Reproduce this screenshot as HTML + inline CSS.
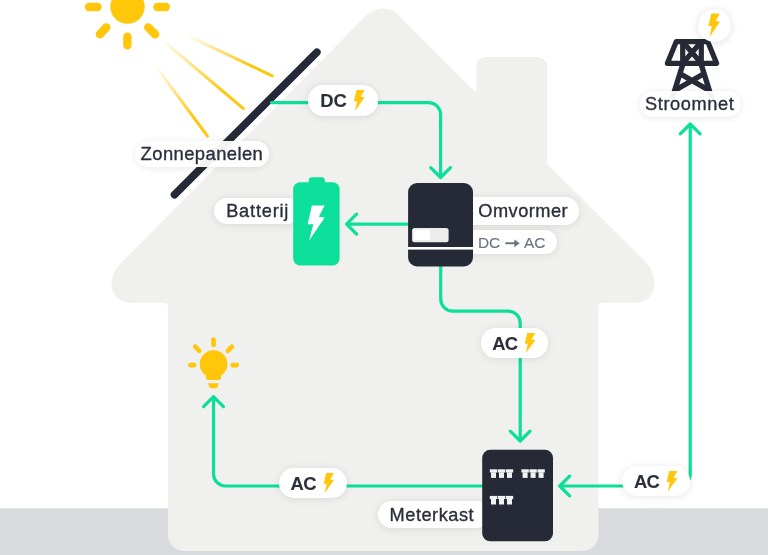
<!DOCTYPE html>
<html><head><meta charset="utf-8">
<style>
html,body{margin:0;padding:0;background:#fff;width:768px;height:555px;overflow:hidden;}
body{position:relative;font-family:"Liberation Sans",sans-serif;}
svg{position:absolute;left:0;top:0;}
svg text{font-family:"Liberation Sans",sans-serif;}
.fgl{will-change:transform;}
.pill{position:absolute;background:#fff;box-shadow:0 1px 8px rgba(0,0,0,0.10);}
</style></head><body>
<svg width="768" height="555" viewBox="0 0 768 555">
<defs><linearGradient id="g0" gradientUnits="userSpaceOnUse" x1="186.5" y1="35.1" x2="272.3" y2="75.8"><stop offset="0" stop-color="#ffc60a" stop-opacity="0"/><stop offset="0.75" stop-color="#ffc60a" stop-opacity="1"/><stop offset="1" stop-color="#ffc60a"/></linearGradient><linearGradient id="g1" gradientUnits="userSpaceOnUse" x1="160.5" y1="38.4" x2="243.4" y2="108.6"><stop offset="0" stop-color="#ffc60a" stop-opacity="0"/><stop offset="0.75" stop-color="#ffc60a" stop-opacity="1"/><stop offset="1" stop-color="#ffc60a"/></linearGradient><linearGradient id="g2" gradientUnits="userSpaceOnUse" x1="155.1" y1="65.4" x2="207.5" y2="136.1"><stop offset="0" stop-color="#ffc60a" stop-opacity="0"/><stop offset="0.75" stop-color="#ffc60a" stop-opacity="1"/><stop offset="1" stop-color="#ffc60a"/></linearGradient></defs>
<rect x="0" y="508.2" width="768" height="47" fill="#d9dadd"/><path d="M366.69,15.06A22.5,22.5 0 0 1 398.59,14.99L476.30,92.70L476.30,66.00A9,9 0 0 1 485.30,57.00L538.00,57.00A9,9 0 0 1 547.00,66.00L547.00,163.40L645.50,261.72A31,31 0 0 1 654.60,283.66L654.60,284.20A18.5,18.5 0 0 1 636.10,302.70L602.50,302.70A4,4 0 0 0 598.50,306.70L598.50,535.00A16,16 0 0 1 582.50,551.00L184.00,551.00A16,16 0 0 1 168.00,535.00L168.00,306.70A4,4 0 0 0 164.00,302.70L129.90,302.70A18.5,18.5 0 0 1 111.40,284.20L111.40,285.14A30,30 0 0 1 120.09,264.03Z" fill="#f0f0ef"/><g stroke="#ffc60a" stroke-width="8.4" stroke-linecap="round" fill="none"><path d="M89,7H97.5M157.5,7H165.8M127.4,36.8V45.4M99.8,34.3L106.3,27.4M148.2,27.4L155.1,34.3"/></g><circle cx="127.5" cy="6.55" r="17.2" fill="#ffc60a"/><line x1="186.5" y1="35.1" x2="272.3" y2="75.8" stroke="url(#g0)" stroke-width="3" stroke-linecap="round"/><line x1="160.5" y1="38.4" x2="243.4" y2="108.6" stroke="url(#g1)" stroke-width="3" stroke-linecap="round"/><line x1="155.1" y1="65.4" x2="207.5" y2="136.1" stroke="url(#g2)" stroke-width="3" stroke-linecap="round"/><line x1="174.5" y1="194.7" x2="316.9" y2="52.3" stroke="#262a37" stroke-width="7.6" stroke-linecap="round"/><path d="M271.5,102.6H428.6A12,12 0 0 1 440.6,114.6V177.5M430.70,167.60L440.60,177.50L450.50,167.60M408,224.1H346.6M356.50,214.20L346.60,224.10L356.50,234.00M440.7,260V299.1A12,12 0 0 0 452.7,311.1H508.20000000000005A12,12 0 0 1 520.2,323.1V441.0M510.30,431.10L520.20,441.00L530.10,431.10M485,486H225.5A12,12 0 0 1 213.5,474V396.7M203.60,406.60L213.50,396.70L223.40,406.60M559.7,486H678.2A12,12 0 0 0 690.2,474V124M569.60,476.10L559.70,486.00L569.60,495.90M680.30,133.90L690.20,124.00L700.10,133.90" stroke="#0cdf9a" stroke-width="3.2" fill="none" stroke-linecap="round" stroke-linejoin="round"/><g stroke="#ffc60a" stroke-width="4.7" stroke-linecap="round" fill="none"><path d="M213.5,339.7V344.9M190.35,365.1H194.05M232.65,365.1H236.75M195.2,346.7L199.3,350.8M231.9,346.7L227.9,350.8"/></g><circle cx="213.6" cy="364" r="13.85" fill="#ffc60a"/><path d="M206,370H221V377.6Q221,380.1 218.5,380.1H208.5Q206,380.1 206,377.6Z" fill="#ffc60a"/><path d="M208.3,383.3H218.6Q218.6,388.5 213.45,388.5Q208.3,388.5 208.3,383.3Z" fill="#ffc60a"/><g fill="none" stroke="#262a37" stroke-width="5.2" stroke-linejoin="round"><path d="M676.2,41.7H707.8L716.6,63.3H667.4Z"/><path d="M682.7,41.7V63.3M701.3,41.7V63.3"/></g><g fill="none" stroke="#262a37" stroke-width="5.2"><path d="M682.7,41.7L701.3,63.3M701.3,41.7L682.7,63.3"/></g><g fill="none" stroke="#262a37" stroke-width="5.4"><path d="M683.15,63.3L672.0,99M700.85,63.3L712,99M679.9,73.7L709.3,90.5M704.1,73.7L674.7,90.5"/></g>
</svg>
<div class="pill" style="left:308px;top:85.3px;width:69.60000000000002px;height:30.400000000000006px;border-radius:15.200000000000003px;opacity:1.0"></div><div class="pill" style="left:134.8px;top:140.9px;width:133.8px;height:26.299999999999983px;border-radius:13.149999999999991px;opacity:0.94"></div><div class="pill" style="left:214.4px;top:197.6px;width:85.6px;height:26.900000000000006px;border-radius:13.450000000000003px;opacity:1.0"></div><div class="pill" style="left:460px;top:197px;width:119.39999999999998px;height:27.69999999999999px;border-radius:13.849999999999994px;opacity:1.0"></div><div class="pill" style="left:460px;top:229.8px;width:96.70000000000005px;height:24.599999999999994px;border-radius:12.299999999999997px;opacity:1.0"></div><div class="pill" style="left:480.5px;top:328.4px;width:67.39999999999998px;height:29.700000000000045px;border-radius:14.850000000000023px;opacity:1.0"></div><div class="pill" style="left:279px;top:467.8px;width:68.10000000000002px;height:30.5px;border-radius:15.25px;opacity:1.0"></div><div class="pill" style="left:622.4px;top:466.4px;width:67.80000000000007px;height:30.0px;border-radius:15.0px;opacity:1.0"></div><div class="pill" style="left:377.8px;top:501.3px;width:112.19999999999999px;height:26.999999999999943px;border-radius:13.499999999999972px;opacity:1.0"></div><div class="pill" style="left:640.2px;top:90.6px;width:101.09999999999991px;height:26.80000000000001px;border-radius:13.400000000000006px;opacity:0.94"></div><div class="pill" style="left:697.6px;top:9px;width:33.4px;height:33.4px;border-radius:50%;box-shadow:0 1px 8px rgba(0,0,0,0.13)"></div>
<svg class="fgl" width="768" height="555" viewBox="0 0 768 555">
<text x="320.2" y="106.7" font-size="18.4" font-weight="700" fill="#2b2f3c" stroke="#2b2f3c" stroke-width="0.1" letter-spacing="0">DC</text><text x="492.2" y="349.6" font-size="18.4" font-weight="700" fill="#2b2f3c" stroke="#2b2f3c" stroke-width="0.1" letter-spacing="-0.6">AC</text><text x="290.6" y="489.9" font-size="18.4" font-weight="700" fill="#2b2f3c" stroke="#2b2f3c" stroke-width="0.1" letter-spacing="-0.6">AC</text><text x="633.9" y="487.8" font-size="18.4" font-weight="700" fill="#2b2f3c" stroke="#2b2f3c" stroke-width="0.1" letter-spacing="-0.6">AC</text><text x="140.6" y="160.4" font-size="18.4" font-weight="400" fill="#2b2f3c" stroke="#2b2f3c" stroke-width="0.35" letter-spacing="0.42">Zonnepanelen</text><text x="226.2" y="217.1" font-size="18.2" font-weight="400" fill="#2b2f3c" stroke="#2b2f3c" stroke-width="0.35" letter-spacing="0.8">Batterij</text><text x="478.3" y="216.9" font-size="18.2" font-weight="400" fill="#2b2f3c" stroke="#2b2f3c" stroke-width="0.35" letter-spacing="0.5">Omvormer</text><text x="389.6" y="521.25" font-size="18.2" font-weight="400" fill="#2b2f3c" stroke="#2b2f3c" stroke-width="0.35" letter-spacing="0.52">Meterkast</text><text x="645" y="110.2" font-size="18.2" font-weight="400" fill="#2b2f3c" stroke="#2b2f3c" stroke-width="0.35" letter-spacing="0.62">Stroomnet</text><text x="478" y="247.8" font-size="15.4" font-weight="400" fill="#6f7480" stroke="#6f7480" stroke-width="0.12" letter-spacing="0">DC</text><text x="524.0" y="247.8" font-size="15.4" font-weight="400" fill="#6f7480" stroke="#6f7480" stroke-width="0.12" letter-spacing="0">AC</text><polygon points="356.49,90.00 364.59,90.00 360.81,96.83 364.70,97.35 354.98,111.00 357.03,101.23 353.90,101.23" fill="#ffc60a"/><polygon points="527.27,333.00 535.29,333.00 531.55,339.53 535.40,340.04 525.77,353.10 527.80,343.75 524.70,343.75" fill="#ffc60a"/><polygon points="326.10,473.00 333.90,473.00 330.26,479.50 334.00,480.00 324.64,493.00 326.62,483.70 323.60,483.70" fill="#ffc60a"/><polygon points="669.27,471.10 677.29,471.10 673.55,477.73 677.40,478.24 667.77,491.50 669.80,482.01 666.70,482.01" fill="#ffc60a"/><polygon points="711.24,13.50 719.79,13.50 715.80,21.11 719.90,21.69 709.64,36.90 711.81,26.02 708.50,26.02" fill="#ffc60a"/><path d="M506.2,243.3H515.5" stroke="#6f7480" stroke-width="2.1" stroke-linecap="round" fill="none"/><polygon points="514.6,239.9 519.3,243.3 514.6,246.7" fill="#6f7480" stroke="#6f7480" stroke-width="0.6" stroke-linejoin="round"/>
<rect x="308.8" y="177.2" width="16" height="8" rx="3" fill="#0cdf9a"/><rect x="293.2" y="182.3" width="46.4" height="83.3" rx="7" fill="#0cdf9a"/><polygon points="311.9,205.6 324.7,205.6 318.8,216.8 324.7,217.6 309.1,240.4 313.3,224.2 307.6,224.2" fill="#fff"/><rect x="408.1" y="183.1" width="64.9" height="83.3" rx="9" fill="#262a37"/><rect x="408" y="247" width="66" height="2.6" fill="#fff"/><rect x="412.1" y="228" width="36.5" height="14.3" rx="2.5" fill="#ececec"/><rect x="413.7" y="230" width="16.4" height="9.9" rx="1" fill="#fff"/><rect x="482.2" y="449.8" width="70.8" height="91.5" rx="8" fill="#262a37"/><rect x="489.80" y="469.3" width="7.4" height="3.2" fill="#f2f2f2"/><rect x="491.00" y="472.3" width="5" height="5.6" fill="#f2f2f2"/><rect x="497.80" y="469.3" width="7.4" height="3.2" fill="#f2f2f2"/><rect x="499.00" y="472.3" width="5" height="5.6" fill="#f2f2f2"/><rect x="505.80" y="469.3" width="7.4" height="3.2" fill="#f2f2f2"/><rect x="507.00" y="472.3" width="5" height="5.6" fill="#f2f2f2"/><rect x="521.40" y="469.3" width="7.4" height="3.2" fill="#f2f2f2"/><rect x="522.60" y="472.3" width="5" height="5.6" fill="#f2f2f2"/><rect x="529.40" y="469.3" width="7.4" height="3.2" fill="#f2f2f2"/><rect x="530.60" y="472.3" width="5" height="5.6" fill="#f2f2f2"/><rect x="537.40" y="469.3" width="7.4" height="3.2" fill="#f2f2f2"/><rect x="538.60" y="472.3" width="5" height="5.6" fill="#f2f2f2"/><rect x="489.80" y="495.9" width="7.4" height="3.2" fill="#f2f2f2"/><rect x="491.00" y="498.9" width="5" height="5.6" fill="#f2f2f2"/><rect x="497.80" y="495.9" width="7.4" height="3.2" fill="#f2f2f2"/><rect x="499.00" y="498.9" width="5" height="5.6" fill="#f2f2f2"/><rect x="505.80" y="495.9" width="7.4" height="3.2" fill="#f2f2f2"/><rect x="507.00" y="498.9" width="5" height="5.6" fill="#f2f2f2"/>
</svg>
</body></html>
